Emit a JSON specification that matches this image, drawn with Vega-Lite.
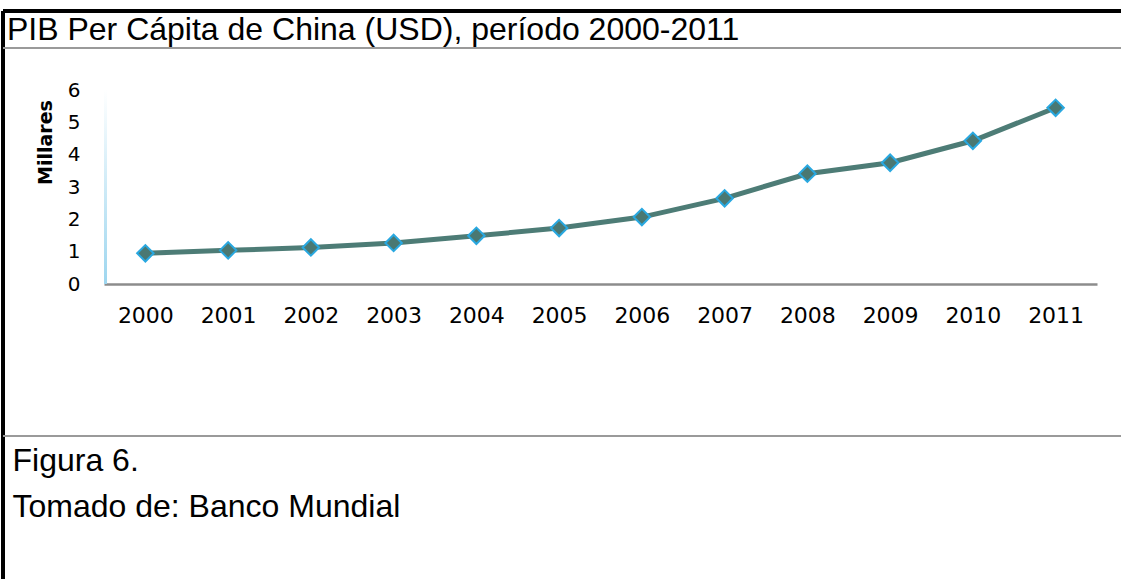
{
  "$schema": "https://vega.github.io/schema/vega-lite/v6.json",
  "width": 993,
  "height": 194,
  "autosize": "none",
  "padding": {"left": 104, "top": 90, "right": 24, "bottom": 295},
  "background": "white",
  "title": {
    "text": "PIB Per Cápita de China (USD), período 2000-2011",
    "font": "Liberation Sans",
    "fontSize": 32,
    "fontWeight": "normal",
    "color": "#000000",
    "anchor": "start",
    "frame": "group",
    "baseline": "alphabetic",
    "offset": 0,
    "dx": -97,
    "dy": 62
  },
  "data": {
    "values": [
      {"year": 2000, "pib": 0.95},
      {"year": 2001, "pib": 1.04},
      {"year": 2002, "pib": 1.13},
      {"year": 2003, "pib": 1.27},
      {"year": 2004, "pib": 1.49},
      {"year": 2005, "pib": 1.73},
      {"year": 2006, "pib": 2.07},
      {"year": 2007, "pib": 2.65},
      {"year": 2008, "pib": 3.41},
      {"year": 2009, "pib": 3.75},
      {"year": 2010, "pib": 4.43},
      {"year": 2011, "pib": 5.45}
    ]
  },
  "config": {"view": {"stroke": null}},
  "encoding": {
    "x": {
      "field": "year",
      "type": "quantitative",
      "scale": {"domain": [1999.5, 2011.5], "nice": false, "zero": false},
      "axis": {
        "values": [2000, 2001, 2002, 2003, 2004, 2005, 2006, 2007, 2008, 2009, 2010, 2011],
        "format": "d",
        "grid": false,
        "ticks": false,
        "tickSize": 0,
        "labelFont": "DejaVu Sans",
        "labelFontSize": 22,
        "labelColor": "#000000",
        "labelPadding": 21,
        "labelFlush": false,
        "labelOverlap": false,
        "domainColor": "#8c8c8c",
        "domainWidth": 2.5,
        "title": ["Figura 6.", "Tomado de: Banco Mundial"],
        "titleFont": "Liberation Sans",
        "titleFontSize": 32,
        "titleFontWeight": "normal",
        "titleColor": "#000000",
        "titleAlign": "left",
        "titleBaseline": "alphabetic",
        "titleLineHeight": 46,
        "titleX": -92,
        "titleY": 186
      }
    },
    "y": {
      "field": "pib",
      "type": "quantitative",
      "scale": {"domain": [0, 6], "nice": false},
      "axis": {
        "values": [0, 1, 2, 3, 4, 5, 6],
        "grid": false,
        "ticks": false,
        "tickSize": 0,
        "domain": false,
        "labelFont": "DejaVu Sans",
        "labelFontSize": 20,
        "labelColor": "#000000",
        "labelPadding": 24,
        "title": "Millares",
        "titleFont": "DejaVu Sans",
        "titleFontSize": 19,
        "titleFontWeight": "bold",
        "titleColor": "#000000",
        "titleAngle": -90,
        "titleAlign": "center",
        "titleBaseline": "middle",
        "titleX": -59,
        "titleY": 52
      }
    }
  },
  "layer": [
    {
      "mark": {
        "type": "rect",
        "fill": {
          "gradient": "linear",
          "x1": 0, "y1": 1, "x2": 0, "y2": 0,
          "stops": [
            {"offset": 0, "color": "#9ed6ef"},
            {"offset": 1, "color": "#ffffff"}
          ]
        }
      },
      "encoding": {
        "x": {"datum": 1999.5},
        "x2": {"datum": 1999.536},
        "y": {"datum": 0},
        "y2": {"datum": 6}
      }
    },
    {
      "mark": {"type": "rule", "color": "#000000", "strokeWidth": 3},
      "encoding": {
        "x": {"datum": 1998.28},
        "x2": {"datum": 2011.9},
        "y": {"datum": 8.443}
      }
    },
    {
      "mark": {"type": "rule", "color": "#000000", "strokeWidth": 3},
      "encoding": {
        "x": {"datum": 1998.28},
        "y": {"datum": 8.443},
        "y2": {"datum": -9.6}
      }
    },
    {
      "mark": {"type": "rule", "color": "#9a9a9a", "strokeWidth": 2},
      "encoding": {
        "x": {"datum": 1998.28},
        "x2": {"datum": 2011.9},
        "y": {"datum": 7.3}
      }
    },
    {
      "mark": {"type": "rule", "color": "#9a9a9a", "strokeWidth": 2},
      "encoding": {
        "x": {"datum": 1998.28},
        "x2": {"datum": 2011.9},
        "y": {"datum": -4.70}
      }
    },
    {
      "mark": {"type": "line", "color": "#4d7c76", "strokeWidth": 5}
    },
    {
      "mark": {
        "type": "point",
        "shape": "diamond",
        "size": 270,
        "filled": true,
        "fill": "#4a7872",
        "stroke": "#29a8e0",
        "strokeWidth": 2,
        "opacity": 1
      }
    }
  ]
}
